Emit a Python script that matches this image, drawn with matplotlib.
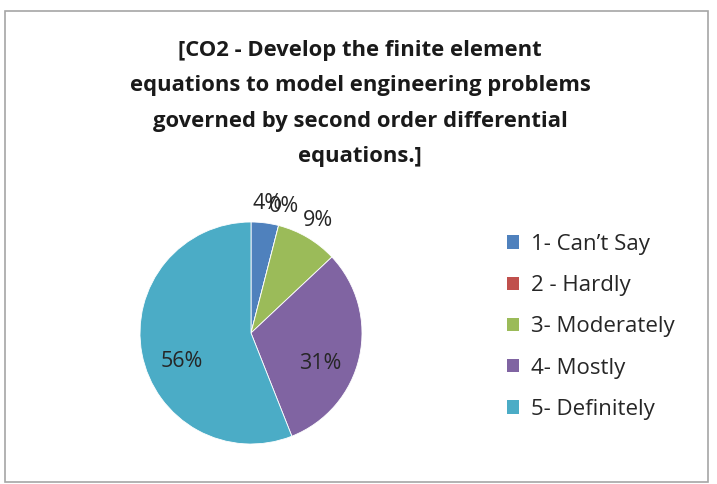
import numpy as np
import matplotlib.pyplot as plt
from matplotlib.patches import Rectangle, Patch

# survey responses (percent)
labels = ['1- Can\u2019t Say', '2 - Hardly', '3- Moderately', '4- Mostly', '5- Definitely']
values = [4, 0, 9, 31, 56]
colors = ['#4F81BD', '#C0504D', '#9BBB59', '#8064A2', '#4BACC6']
title = ('[CO2 - Develop the finite element\n'
         'equations to model engineering problems\n'
         'governed by second order differential\n'
         'equations.]')

plt.rcParams['font.family'] = ['Open Sans', 'DejaVu Sans']

W, H = 717, 484
fig = plt.figure(figsize=(W / 100, H / 100), dpi=100)

# chart border
fig.patches.append(Rectangle((5 / W, 2 / H), 703 / W, 471 / H, transform=fig.transFigure,
                             fill=False, edgecolor='#a6a6a6', linewidth=1.2))

fig.text(360 / W, 1 - 40 / H, title, ha='center', va='top', fontsize=15.8,
         fontweight='bold', color='#1a1a1a', linespacing=1.9)

# pie axes: centre (251, 333), radius 111 px
cx, cy, r = 251, 333, 111
ax = fig.add_axes([(cx - r) / W, (H - cy - r) / H, 2 * r / W, 2 * r / H])
wedges, _ = ax.pie(values, colors=colors, startangle=90, counterclock=False,
                   radius=1.0, wedgeprops=dict(linewidth=0.6, edgecolor='white'))
ax.set_xlim(-1, 1)
ax.set_ylim(-1, 1)
ax.set_aspect('equal')
ax.axis('off')

for w, v in zip(wedges, values):
    ang = np.deg2rad((w.theta1 + w.theta2) / 2)
    if v < 10:
        d = 1.18
        x, y = d * np.cos(ang), d * np.sin(ang)
    else:
        d = 0.67
        x, y = d * np.cos(ang) * 0.95, d * np.sin(ang) - 0.13
    ax.text(x, y, f'{v}%', ha='center', va='center', fontsize=15.5, color='#262626',
            clip_on=False)

handles = [Patch(facecolor=c, edgecolor='none') for c in colors]
fig.legend(handles, labels, loc='upper left', bbox_to_anchor=(487 / W, 1 - 214 / H),
           frameon=False, fontsize=16, handlelength=0.55, handleheight=0.55,
           handletextpad=0.55, labelspacing=0.91, labelcolor='#262626')

fig.savefig('out.png', dpi=100)
